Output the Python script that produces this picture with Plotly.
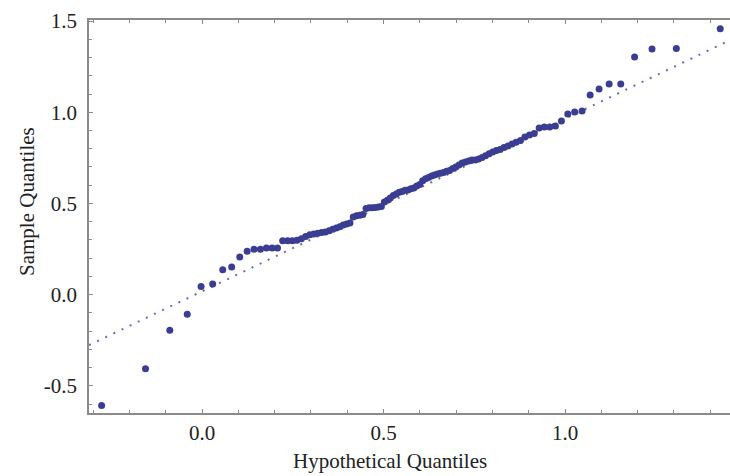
import plotly.graph_objects as go
from statistics import NormalDist

# Sample quantiles (sorted)
sample_quantiles = [
    -0.608, -0.407, -0.195, -0.107, 0.044, 0.059, 0.136, 0.152, 0.207, 0.238,
    0.249, 0.249, 0.256, 0.256, 0.256, 0.295, 0.295, 0.295, 0.298, 0.306,
    0.319, 0.328, 0.333, 0.336, 0.341, 0.344, 0.350, 0.358, 0.366, 0.372,
    0.382, 0.388, 0.393, 0.426, 0.432, 0.435, 0.440, 0.473, 0.476, 0.476,
    0.478, 0.481, 0.484, 0.508, 0.517, 0.530, 0.544, 0.552, 0.561, 0.566,
    0.572, 0.574, 0.580, 0.585, 0.596, 0.604, 0.624, 0.635, 0.643, 0.651,
    0.656, 0.662, 0.665, 0.670, 0.676, 0.681, 0.692, 0.700, 0.711, 0.722,
    0.728, 0.733, 0.739, 0.739, 0.744, 0.752, 0.761, 0.772, 0.782, 0.791,
    0.796, 0.807, 0.815, 0.826, 0.835, 0.845, 0.865, 0.876, 0.884, 0.914,
    0.919, 0.919, 0.925, 0.952, 0.991, 1.002, 1.007, 1.095, 1.128, 1.155,
    1.155, 1.303, 1.347, 1.350, 1.458,
]

# Fitted normal used for the hypothetical quantiles
fit_mean = 0.5755
fit_sd = 0.3387

# Reference line parameters
ref_intercept = 0.018
ref_slope = 0.947

x_tick_vals = [0.0, 0.5, 1.0]
x_tick_text = ["0.0", "0.5", "1.0"]
y_tick_vals = [-0.5, 0.0, 0.5, 1.0, 1.5]
y_tick_text = ["-0.5", "0.0", "0.5", "1.0", "1.5"]

x_title = "Hypothetical Quantiles"
y_title = "Sample Quantiles"

x_range = [-0.3113, 1.4545]
y_range = [-0.649, 1.506]

n = len(sample_quantiles)
nd = NormalDist()
hypothetical = [fit_mean + fit_sd * nd.inv_cdf((i + 1 - 0.375) / (n + 0.25)) for i in range(n)]

line_x = list(x_range)
line_y = [ref_intercept + ref_slope * v for v in line_x]

color = "#3a3d92"
axis_col = "#8a8a8a"
font_family = "Liberation Serif"

fig = go.Figure()
fig.add_trace(go.Scatter(
    x=line_x, y=line_y, mode="lines",
    line=dict(color="#6a6cb0", width=2, dash="2px,7px"),
    hoverinfo="skip", showlegend=False,
))
fig.add_trace(go.Scatter(
    x=hypothetical, y=sample_quantiles, mode="markers",
    marker=dict(color=color, size=7, line=dict(width=0)),
    showlegend=False,
))

fig.update_layout(
    width=730, height=476,
    margin=dict(l=89, r=0, t=20, b=63, autoexpand=False),
    paper_bgcolor="white", plot_bgcolor="white",
    font=dict(family=font_family, size=21, color="#222222"),
    annotations=[
        dict(text=x_title, xref="paper", yref="paper", x=0.469, y=-0.123,
             xanchor="center", yanchor="middle", showarrow=False,
             font=dict(family=font_family, size=21, color="#222222")),
        dict(text=y_title, xref="paper", yref="paper", x=-0.097, y=0.539,
             xanchor="center", yanchor="middle", showarrow=False, textangle=-90,
             font=dict(family=font_family, size=21, color="#222222")),
    ],
)
fig.update_xaxes(
    range=x_range, showgrid=False, zeroline=False, automargin=False,
    showline=True, linecolor=axis_col, linewidth=1.5, mirror="ticks",
    ticks="inside", ticklen=4, tickcolor=axis_col, tickwidth=1,
    tickmode="array", tickvals=x_tick_vals, ticktext=x_tick_text,
    tickfont=dict(family=font_family, size=21, color="#222222"),
    minor=dict(ticks="inside", ticklen=3, tickcolor=axis_col, tickmode="linear", tick0=0, dtick=0.1),
)
fig.update_yaxes(
    range=y_range, showgrid=False, zeroline=False, automargin=False,
    showline=True, linecolor=axis_col, linewidth=1.5, mirror=False,
    ticks="inside", ticklen=4, tickcolor=axis_col, tickwidth=1,
    tickmode="array", tickvals=y_tick_vals, ticktext=y_tick_text,
    tickfont=dict(family=font_family, size=21, color="#222222"),
    ticklabelstandoff=6,
    minor=dict(ticks="inside", ticklen=3, tickcolor=axis_col, tickmode="linear", tick0=0, dtick=0.1),
)

fig.write_html("out.html", config={"displayModeBar": False},
               post_script="document.body.style.margin='0';")
